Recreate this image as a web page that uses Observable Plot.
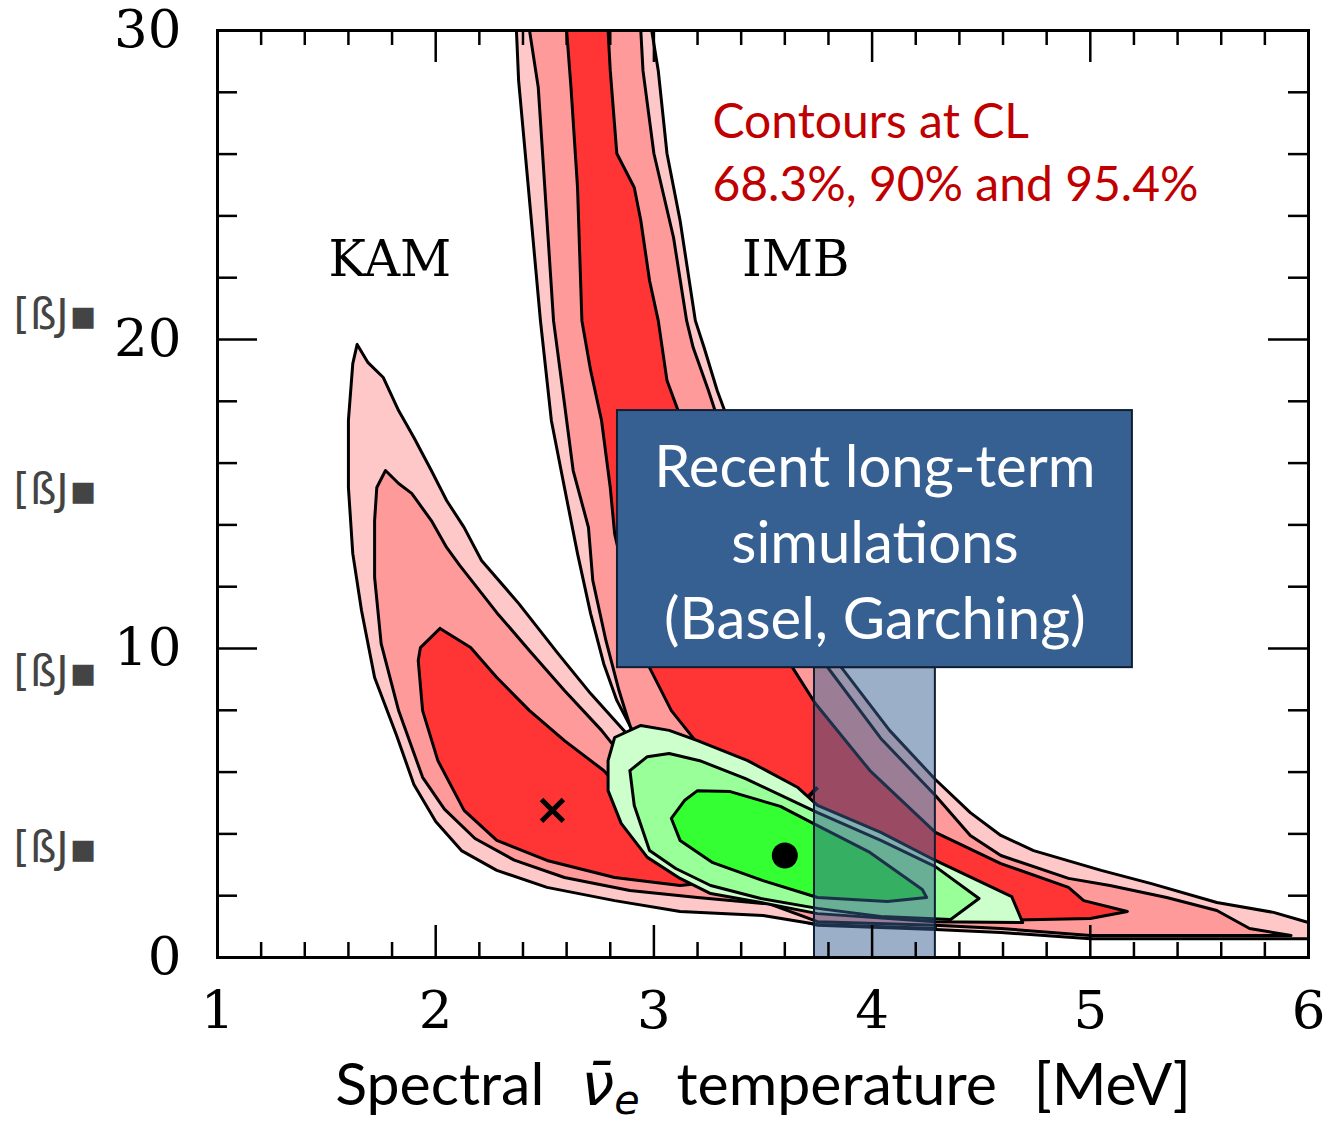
<!DOCTYPE html>
<html><head><meta charset="utf-8">
<script src="https://cdn.jsdelivr.net/npm/d3@7"></script>
<script src="https://cdn.jsdelivr.net/npm/@observablehq/plot@0.6"></script>
<style>body{margin:0;background:#fff}#chart{width:1324px;height:1123px}</style>
</head><body><div id="chart"></div>
<script>
// Axis ticks
const xMajorTicks = [1, 2, 3, 4, 5, 6];
const xMinorTicks = [1.2,1.4,1.6,1.8,2.2,2.4,2.6,2.8,3.2,3.4,3.6,3.8,4.2,4.4,4.6,4.8,5.2,5.4,5.6,5.8];
const yMajorTicks = [0, 10, 20, 30];
const yMinorTicks = [2,4,6,8,12,14,16,18,22,24,26,28];

// Contours (T [MeV], binding energy) — IMB
const imbOuter = [[2.37,30.0],[2.38,28.38],[2.43,24.5],[2.48,20.61],[2.53,17.38],[2.59,15.21],[2.65,13.07],[2.71,11.13],[2.77,9.51],[2.83,8.32],[2.89,7.51],[2.98,5.73],[3.12,3.46],[3.31,2.01],[3.50,1.52],[3.75,1.04],[4.29,0.91],[4.59,0.81],[5.0,0.61],[6.0,0.61],[6.0,1.13],[5.84,1.46],[5.58,1.78],[5.28,2.39],[5.05,2.82],[4.74,3.46],[4.59,3.95],[4.45,4.69],[4.29,5.76],[4.08,7.35],[3.86,9.38],[3.70,11.39],[3.53,13.82],[3.40,16.25],[3.29,18.35],[3.23,19.74],[3.19,20.61],[3.12,23.85],[3.06,26.02],[3.02,28.70],[2.99,30.0]];
const imbMid = [[2.43,30],[2.47,28.16],[2.50,24.92],[2.54,20.61],[2.59,17.93],[2.63,15.76],[2.70,13.92],[2.72,12.20],[2.78,10.26],[2.84,8.64],[2.89,7.51],[3.03,5.40],[3.21,3.14],[3.49,1.84],[3.75,1.16],[4.29,1.04],[4.59,0.94],[5.0,0.71],[5.92,0.71],[5.73,0.94],[5.58,1.52],[5.35,1.94],[5.09,2.33],[4.90,2.56],[4.59,3.30],[4.45,3.95],[4.29,5.24],[4.04,7.09],[3.79,9.45],[3.63,11.88],[3.47,14.14],[3.34,16.41],[3.25,18.35],[3.18,19.74],[3.15,20.61],[3.09,23.30],[3.00,26.02],[2.95,28.70],[2.94,30]];
const imbInner = [[2.60,30],[2.62,28.16],[2.65,24.92],[2.67,20.61],[2.71,19.0],[2.76,17.38],[2.80,15.21],[2.82,13.72],[2.89,11.55],[2.98,9.38],[3.08,7.99],[3.20,6.93],[3.40,5.08],[3.67,3.14],[4.04,1.84],[4.59,1.20],[5.0,1.26],[5.17,1.49],[4.97,1.84],[4.90,2.27],[4.59,3.04],[4.29,4.05],[3.99,6.05],[3.74,8.22],[3.65,9.22],[3.56,10.26],[3.42,12.04],[3.28,14.30],[3.17,16.57],[3.06,18.67],[3.02,20.61],[2.98,21.91],[2.94,23.85],[2.91,24.92],[2.83,26.02],[2.80,28.70],[2.79,30]];
// KAM
const kamOuter = [[1.64,19.84],[1.69,19.25],[1.76,18.77],[1.83,17.70],[1.90,16.83],[1.98,15.76],[2.05,14.79],[2.13,13.92],[2.21,12.85],[2.38,11.46],[2.56,9.84],[2.71,8.54],[2.85,7.44],[3.03,6.05],[3.31,4.11],[3.67,2.49],[3.99,1.68],[4.29,1.20],[4.29,0.94],[3.75,1.07],[3.50,1.36],[3.12,1.49],[2.82,1.84],[2.51,2.27],[2.28,2.82],[2.12,3.45],[2.00,4.40],[1.90,5.60],[1.82,7.20],[1.72,9.06],[1.66,11.23],[1.62,13.07],[1.60,15.21],[1.60,17.38],[1.62,19.22]];
const kamMid = [[1.77,15.76],[1.83,15.34],[1.89,15.02],[1.98,14.14],[2.05,13.27],[2.11,12.69],[2.28,11.16],[2.43,9.93],[2.59,8.64],[2.76,7.35],[2.87,6.37],[3.03,5.08],[3.31,3.46],[3.67,2.17],[3.81,1.68],[3.50,1.75],[3.20,1.94],[2.89,2.17],[2.59,2.59],[2.36,3.15],[2.18,3.85],[2.04,4.80],[1.94,5.83],[1.83,7.99],[1.75,10.16],[1.72,12.30],[1.72,14.14],[1.73,15.21]];
const kamInner = [[2.02,10.65],[2.16,10.03],[2.28,9.06],[2.43,7.99],[2.59,7.02],[2.77,6.05],[2.94,4.76],[3.08,3.62],[3.20,2.56],[3.20,2.39],[3.12,2.33],[2.82,2.59],[2.51,3.14],[2.28,3.79],[2.13,4.76],[2.01,6.37],[1.94,7.99],[1.92,9.61],[1.93,10.03]];
// Combined (green)
const combOuter = [[2.79,6.37],[2.82,7.12],[2.94,7.51],[3.07,7.35],[3.20,7.02],[3.43,6.37],[3.66,5.50],[3.75,4.92],[4.04,4.05],[4.29,3.14],[4.64,1.97],[4.69,1.13],[4.29,1.16],[3.75,1.42],[3.49,1.78],[3.26,2.07],[3.12,2.56],[2.97,3.24],[2.85,4.34],[2.79,5.40]];
const combMid = [[2.89,6.05],[2.97,6.50],[3.07,6.60],[3.21,6.37],[3.42,5.79],[3.75,4.69],[4.04,3.79],[4.29,2.94],[4.49,1.91],[4.36,1.23],[4.04,1.33],[3.75,1.59],[3.49,1.91],[3.26,2.33],[3.10,2.88],[2.98,3.46],[2.91,4.92]];
const combInner = [[3.08,4.50],[3.14,5.08],[3.20,5.40],[3.35,5.37],[3.58,4.89],[3.73,4.34],[3.99,3.40],[4.23,2.20],[4.25,1.94],[4.07,1.81],[3.75,1.94],[3.50,2.49],[3.27,3.07],[3.12,3.79]];

const kamBest = [[2.535, 4.76]];
const imbBest = [[3.70, 5.15]];
const combBest = [[3.60, 3.30]];

const detectorLabels = [{name: "KAM", x: 1.79, y: 22.56}, {name: "IMB", x: 3.65, y: 22.56}];
const noteLines = ["Contours at CL", "68.3%, 90% and 95.4%"];
const notePos = [3.268, 26.15];
const simBand = {x1: 3.736, x2: 4.29, y1: 0, y2: 9.38};
const simBox = {x1: 2.833, x2: 5.193, y1: 9.38, y2: 17.70};
const simLines = ["Recent long-term", "simulations", "(Basel, Garching)"];
const xLabelParts = ["Spectral", "ν\u0304", "e", "temperature", "[MeV]"];
const sideMarksY = [20.78, 15.11, 9.22, 3.53];

const closed = p => [...p, p[0]];
const C = {o: "#FFC8C8", m: "#FF9A9A", i: "#FF3535", go: "#CCFFCC", gm: "#99FF99", gi: "#33FF33"};
const poly = (p, fill) => Plot.line(closed(p), {fill, stroke: "#000", strokeWidth: 3, strokeLinejoin: "round", clip: true});

const fw = 1324 - 217 - 16, fh = 1123 - 30 - 166;

const chart = Plot.plot({
  width: 1324, height: 1123,
  marginLeft: 217, marginRight: 16, marginTop: 30, marginBottom: 166,
  x: {domain: [1, 6], axis: null},
  y: {domain: [0, 30], axis: null},
  style: {background: "#fff", overflow: "visible"},
  marks: [
    poly(imbOuter, C.o), poly(kamOuter, C.o),
    poly(imbMid, C.m), poly(kamMid, C.m),
    poly(imbInner, C.i), poly(kamInner, C.i),
    Plot.dot(kamBest, {symbol: "times", r: 10, stroke: "#000", strokeWidth: 5}),
    Plot.dot(imbBest, {symbol: "times", r: 10, stroke: "#000", strokeWidth: 4}),
    poly(combOuter, C.go), poly(combMid, C.gm), poly(combInner, C.gi),
    Plot.dot(combBest, {r: 13, fill: "#000"}),
    Plot.rect([simBand], {x1: "x1", x2: "x2", y1: "y1", y2: "y2", fill: "#376092", fillOpacity: 0.5, stroke: "#101e33", strokeWidth: 2}),
    Plot.rect([simBox], {x1: "x1", x2: "x2", y1: "y1", y2: "y2", fill: "#376092", stroke: "#0f1e33", strokeWidth: 2}),
    Plot.text([simLines.join("\n")], {x: [(simBox.x1 + simBox.x2) / 2], y: [(simBox.y1 + simBox.y2) / 2], fill: "#fff", fontSize: 58, fontFamily: "Lato", lineHeight: 1.31, textAnchor: "middle", lineAnchor: "middle"}),
    Plot.text([noteLines.join("\n")], {x: [notePos[0]], y: [notePos[1]], fill: "#C00000", fontSize: 48, fontFamily: "Lato", lineHeight: 1.3, textAnchor: "start", lineAnchor: "middle"}),
    Plot.text(detectorLabels, {x: "x", y: "y", text: "name", fontSize: 50, fontFamily: "DejaVu Serif", fill: "#000"}),
    // inward ticks
    Plot.tickX(xMinorTicks, {x: d => d, stroke: "#000", strokeWidth: 2.5, insetTop: fh - 15}),
    Plot.tickX(xMajorTicks, {x: d => d, stroke: "#000", strokeWidth: 2.5, insetTop: fh - 32}),
    Plot.tickX(xMinorTicks, {x: d => d, stroke: "#000", strokeWidth: 2.5, insetBottom: fh - 15}),
    Plot.tickX(xMajorTicks, {x: d => d, stroke: "#000", strokeWidth: 2.5, insetBottom: fh - 32}),
    Plot.tickY(yMinorTicks, {y: d => d, stroke: "#000", strokeWidth: 2.5, insetRight: fw - 20}),
    Plot.tickY(yMajorTicks, {y: d => d, stroke: "#000", strokeWidth: 2.5, insetRight: fw - 40}),
    Plot.tickY(yMinorTicks, {y: d => d, stroke: "#000", strokeWidth: 2.5, insetLeft: fw - 20}),
    Plot.tickY(yMajorTicks, {y: d => d, stroke: "#000", strokeWidth: 2.5, insetLeft: fw - 40}),
    Plot.frame({stroke: "#000", strokeWidth: 3}),
    // tick labels
    Plot.text(xMajorTicks, {x: d => d, frameAnchor: "bottom", dy: 54, text: d => String(d), fontSize: 53, fontFamily: "DejaVu Serif", fill: "#000", lineAnchor: "middle"}),
    Plot.text(yMajorTicks, {y: d => d, frameAnchor: "left", dx: -36, text: d => String(d), fontSize: 53, fontFamily: "DejaVu Serif", fill: "#000", textAnchor: "end"}),
    Plot.text(sideMarksY, {y: d => d, frameAnchor: "left", dx: -204, text: () => "[ßJ▪", fontSize: 42, fontFamily: "DejaVu Sans", fill: "#444", textAnchor: "start"}),
    Plot.text([xLabelParts.join(" ")], {frameAnchor: "bottom", dy: 129, fontSize: 59, fontFamily: "Lato", fill: "#000", lineAnchor: "middle"})
  ]
});
document.getElementById("chart").appendChild(chart);

// rich x-axis label (overlined nu with italic subscript e)
d3.select(chart).selectAll("text").filter(function() { return this.textContent === xLabelParts.join(" "); }).each(function() {
  const t = d3.select(this);
  t.text(null);
  t.append("tspan").text(xLabelParts[0] + "\u2002\u2009");
  t.append("tspan").attr("font-family", "DejaVu Sans").attr("font-style", "italic").text(xLabelParts[1]);
  t.append("tspan").attr("font-family", "DejaVu Sans").attr("font-style", "italic").attr("font-size", "0.7em").attr("dy", "0.2em").text(xLabelParts[2]);
  t.append("tspan").attr("dy", "-0.14em").text("\u2002\u2009" + xLabelParts[3] + "\u2002\u2009" + xLabelParts[4]);
});
</script></body></html>
